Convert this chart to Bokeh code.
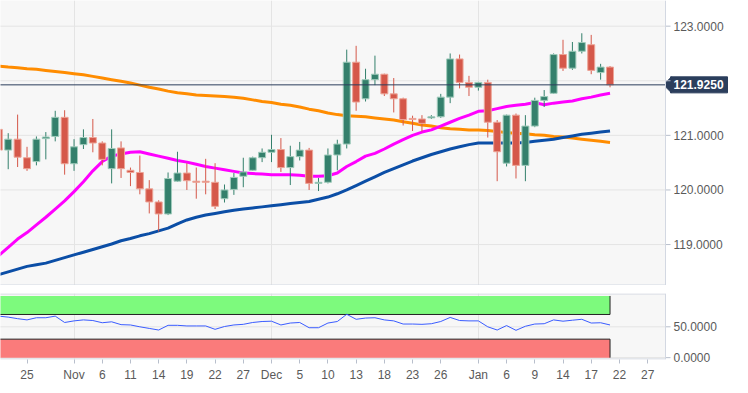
import pandas as pd
from bokeh.plotting import figure
from bokeh.layouts import column
from bokeh.models import Range1d, FixedTicker, Span, PrintfTickFormatter
from bokeh.core.properties import value
from bokeh.embed import file_html
from bokeh.resources import INLINE

# ---- axis: trading days (Mon-Fri) ----
trading_days = pd.bdate_range("2019-10-22", "2020-01-27")
day_index = {d.strftime("%Y-%m-%d"): i for i, d in enumerate(trading_days)}

# ---- daily candles (index 0 = 2019-10-22) ----
opens = [121.11, 120.73, 120.93, 120.59, 120.52, 120.94, 120.98, 121.33, 120.48, 120.83,
         120.96, 120.86, 120.39, 120.77, 120.36, 120.32, 120.02, 119.78, 119.56, 120.16,
         120.31, 120.16, 120.16, 120.14, 119.84, 120.01, 120.25, 120.36, 120.59, 120.69,
         120.74, 120.41, 120.61, 120.73, 120.12, 120.14, 120.64, 120.84, 122.34, 121.67,
         122.02, 122.12, 121.76, 121.67, 121.31, 121.30, 121.32, 121.34, 121.70, 122.40,
         121.97, 121.88, 121.97, 121.24, 120.49, 121.37, 120.45, 121.17, 121.64, 121.77,
         122.48, 122.23, 122.54, 122.66, 122.15, 122.25]
highs = [121.25, 121.04, 121.38, 120.79, 120.98, 121.06, 121.45, 121.46, 120.93, 121.11,
         121.30, 120.89, 121.11, 120.89, 120.41, 120.63, 120.18, 119.81, 120.32, 120.70,
         120.49, 120.41, 120.57, 120.49, 120.10, 120.31, 120.59, 120.61, 120.76, 121.01,
         120.95, 120.81, 120.88, 120.77, 120.22, 120.76, 120.92, 122.57, 122.64, 122.22,
         122.46, 122.13, 122.05, 121.69, 121.36, 121.37, 121.37, 121.76, 122.50, 122.48,
         122.09, 121.98, 122.02, 121.28, 121.38, 121.40, 121.37, 121.69, 121.83, 122.50,
         122.75, 122.71, 122.87, 122.84, 122.31, 122.27]
lows = [120.60, 120.38, 120.42, 120.35, 120.45, 120.56, 120.89, 120.28, 120.35, 120.75,
        120.69, 120.45, 120.12, 120.22, 120.07, 119.92, 119.57, 119.24, 119.54, 120.15,
        120.00, 119.84, 119.92, 119.65, 119.77, 119.91, 120.05, 120.35, 120.51, 120.51,
        120.33, 120.09, 120.54, 120.00, 119.98, 120.12, 120.36, 120.76, 121.45, 121.62,
        121.92, 121.72, 121.42, 121.18, 121.08, 121.07, 121.30, 121.32, 121.59, 121.86,
        121.72, 121.82, 120.96, 120.16, 120.43, 120.21, 120.16, 121.15, 121.52, 121.76,
        122.18, 122.20, 122.50, 122.12, 122.02, 121.88]
closes = [120.73, 120.93, 120.60, 120.39, 120.93, 120.97, 121.33, 120.48, 120.79, 120.96,
          120.86, 120.56, 120.76, 120.39, 120.32, 120.02, 119.78, 119.56, 120.21, 120.31,
          120.17, 120.14, 120.14, 119.70, 120.00, 120.23, 120.33, 120.59, 120.69, 120.74,
          120.41, 120.61, 120.73, 120.12, 120.14, 120.64, 120.84, 122.34, 121.61, 122.02,
          122.12, 121.76, 121.67, 121.29, 121.29, 121.22, 121.34, 121.70, 122.40, 121.97,
          121.88, 121.97, 121.24, 120.70, 121.37, 120.45, 121.17, 121.64, 121.71, 122.48,
          122.23, 122.54, 122.70, 122.19, 122.25, 121.925]

# ---- moving averages ----
sma_fast = [118.80, 118.95, 119.10, 119.22, 119.36, 119.50, 119.65, 119.80, 119.97, 120.15,
            120.35, 120.52, 120.62, 120.66, 120.69, 120.70, 120.66, 120.62, 120.58, 120.54,
            120.51, 120.47, 120.43, 120.40, 120.37, 120.34, 120.31, 120.30, 120.29, 120.28,
            120.28, 120.28, 120.27, 120.25, 120.25, 120.26, 120.31, 120.43, 120.52, 120.62,
            120.67, 120.75, 120.84, 120.92, 121.00, 121.06, 121.10, 121.17, 121.24, 121.31,
            121.37, 121.44, 121.45, 121.49, 121.53, 121.55, 121.57, 121.60, 121.56, 121.59,
            121.61, 121.63, 121.67, 121.70, 121.74, 121.77]
sma_mid = [118.45, 118.50, 118.55, 118.60, 118.63, 118.66, 118.71, 118.76, 118.81, 118.86,
           118.91, 118.96, 119.01, 119.07, 119.11, 119.16, 119.20, 119.25, 119.30, 119.38,
           119.45, 119.50, 119.54, 119.57, 119.60, 119.63, 119.65, 119.67, 119.69, 119.71,
           119.73, 119.75, 119.77, 119.79, 119.83, 119.87, 119.93, 120.00, 120.08, 120.16,
           120.24, 120.32, 120.39, 120.46, 120.53, 120.59, 120.65, 120.70, 120.75, 120.79,
           120.83, 120.86, 120.86, 120.86, 120.86, 120.86, 120.87, 120.89, 120.91, 120.93,
           120.96, 120.99, 121.02, 121.04, 121.06, 121.08]
sma_slow = [122.27, 122.25, 122.24, 122.22, 122.21, 122.19, 122.17, 122.15, 122.13, 122.11,
            122.08, 122.05, 122.02, 121.99, 121.96, 121.92, 121.88, 121.85, 121.81, 121.78,
            121.76, 121.74, 121.73, 121.72, 121.71, 121.70, 121.68, 121.65, 121.62, 121.60,
            121.57, 121.55, 121.52, 121.48, 121.45, 121.41, 121.38, 121.36, 121.35, 121.34,
            121.32, 121.30, 121.28, 121.25, 121.22, 121.19, 121.17, 121.14, 121.12, 121.11,
            121.10, 121.10, 121.09, 121.07, 121.05, 121.04, 121.03, 121.01, 121.00, 120.98,
            120.97, 120.95, 120.93, 120.91, 120.89, 120.87]

# ---- RSI ----
rsi = [67.3, 65.7, 63.2, 61.2, 64.7, 64.7, 67.3, 57.0, 59.6, 61.2,
       60.2, 56.6, 58.1, 53.5, 53.0, 50.0, 47.4, 44.8, 52.4, 52.4,
       51.4, 51.4, 51.4, 45.9, 50.5, 53.0, 54.0, 57.0, 58.6, 59.1,
       53.0, 56.1, 57.0, 48.5, 48.5, 56.1, 58.6, 70.3, 62.2, 64.2,
       64.7, 61.2, 59.6, 54.5, 54.5, 54.0, 55.0, 58.6, 65.2, 60.2,
       59.6, 59.6, 50.0, 44.8, 52.0, 44.3, 50.9, 54.5, 55.0, 61.2,
       59.1, 60.7, 62.2, 56.1, 56.6, 53.0]
rsi_upper = [70, 100]
rsi_lower = [0, 30]

last_price = 121.925
price_ticks = [119, 120, 121, 122, 123]
rsi_ticks = [0, 50]

tick_dates = ["2019-10-25", "2019-11-01", "2019-11-06", "2019-11-11", "2019-11-14", "2019-11-19",
              "2019-11-22", "2019-11-27", "2019-12-02", "2019-12-05", "2019-12-10", "2019-12-13",
              "2019-12-18", "2019-12-23", "2019-12-26", "2020-01-01", "2020-01-06", "2020-01-09",
              "2020-01-14", "2020-01-17", "2020-01-22", "2020-01-27"]
tick_labels = ["25", "Nov", "6", "11", "14", "19", "22", "27", "Dec", "5", "10", "13",
               "18", "23", "26", "Jan", "6", "9", "14", "17", "22", "27"]
month_dates = ["2019-11-01", "2019-12-02", "2020-01-01"]

# ---- derived ----
xs = list(range(len(opens)))
up = [c >= o for o, c in zip(opens, closes)]
UP, DOWN = "#34806c", "#d5584a"
UP_EDGE, DOWN_EDGE = "#9fcbbb", "#eda497"
body_fill = [UP if u else DOWN for u in up]
body_edge = [UP_EDGE if u else DOWN_EDGE for u in up]
tops = [max(o, c) for o, c in zip(opens, closes)]
bots = [min(o, c) for o, c in zip(opens, closes)]
tick_idx = [day_index[d] for d in tick_dates]
month_idx = [day_index[d] for d in month_dates]
last_idx = xs[-1]

FONT = "Liberation Sans"
BG = "#f7f7f7"
FRAME = "#d3d8e2"
GRID = "#e4e4e4"
NAVY = "#2b3e5c"
LABEL_C = "#5a5a5a"

# frame = chart area (PLOT_W px) + price-scale area (AXIS_W px)
PLOT_W, AXIS_W = 665, 67
FW = PLOT_W + AXIS_W
FH1, FH2 = 285, 66
X0, X_PLOT_END = 0.18, 70.9
PX = (X_PLOT_END - X0) / PLOT_W          # data units per pixel (x)
X1 = X0 + FW * PX
Y0, Y1 = 118.25, 123.47
PY = (Y1 - Y0) / FH1                      # data units per pixel (y)
R0, R1 = -3, 104
PR = (R1 - R0) / FH2

x_range = Range1d(X0, X1)


def style_price_axis(ax):
    ax.axis_line_color = None
    ax.major_tick_out = 0
    ax.major_tick_in = 0
    ax.minor_tick_out = 0
    ax.minor_tick_in = 0
    ax.minor_tick_line_color = None
    ax.major_tick_line_color = None
    ax.major_label_text_font = FONT
    ax.major_label_text_font_size = "12px"
    ax.major_label_text_color = LABEL_C
    # labels sit in the price-scale area, just right of the chart area
    ax.major_label_standoff = -(AXIS_W - 8)
    ax.formatter = PrintfTickFormatter(format="%.4f")


# ================= main chart =================
p1 = figure(frame_width=FW, frame_height=FH1, x_range=x_range, y_range=Range1d(Y0, Y1),
            y_axis_location="right", output_backend="svg", toolbar_location=None,
            background_fill_color="white", border_fill_color="white",
            min_border_left=0, min_border_top=0, min_border_bottom=0, min_border_right=0)
p1.outline_line_color = None
p1.xaxis.visible = False
p1.ygrid.visible = False
p1.xgrid.ticker = FixedTicker(ticks=month_idx)
p1.xgrid.grid_line_color = GRID
# the 122 label is hidden behind the last-price marker, as in the original
p1.yaxis.ticker = FixedTicker(ticks=[t for t in price_ticks if abs(t - last_price) > 0.3])
style_price_axis(p1.yaxis[0])

# last-price marker in the price-scale area (drawn first)
tip = X_PLOT_END - 2 * PX
bl = X_PLOT_END + 5 * PX
br = X_PLOT_END + 62 * PX
hh = 8 * PY
p1.quad(left=[bl], right=[br], bottom=[last_price - hh], top=[last_price + hh],
        fill_color=NAVY, line_color=NAVY, line_width=1, level="underlay")
p1.patch(x=[tip, bl + PX, bl + PX], y=[last_price, last_price + hh, last_price - hh],
         fill_color=NAVY, line_color=NAVY, line_width=1, level="underlay")
# price-scale tick marks
p1.segment(x0=[X_PLOT_END] * len(price_ticks), y0=price_ticks, x1=[X_PLOT_END + 5 * PX] * len(price_ticks),
           y1=price_ticks, line_color="#b8bfcc", line_width=1, level="underlay")

# chart-area background, grid, border
p1.quad(left=X0 - 1, right=X_PLOT_END, bottom=Y0 - 1, top=Y1 + 1, fill_color=BG, line_color=None, level="underlay")
p1.segment(x0=[X0 - 1] * len(price_ticks), y0=price_ticks, x1=[X_PLOT_END] * len(price_ticks), y1=price_ticks,
           line_color=GRID, line_width=1, level="underlay")
p1.add_layout(Span(location=X_PLOT_END, dimension="height", line_color=FRAME, line_width=1))
p1.segment(x0=[X0 - 1], y0=[Y0 + 0.5 * PY], x1=[X_PLOT_END], y1=[Y0 + 0.5 * PY], line_color=FRAME, line_width=1)

p1.line(xs, sma_slow, line_color="#ff8c00", line_width=3)
p1.line(xs, sma_mid, line_color="#0b4ea6", line_width=3)
p1.line(xs, sma_fast, line_color="#ff00ff", line_width=3)

p1.segment(x0=xs, y0=lows, x1=xs, y1=highs, line_color=body_fill, line_width=1)
p1.vbar(x=xs, width=0.74, top=tops, bottom=bots, fill_color=body_fill, line_color=body_edge, line_width=1)

# last price line and label text
p1.segment(x0=[X0 - 1], y0=[last_price], x1=[X_PLOT_END], y1=[last_price], line_color=NAVY, line_width=1)
p1.text(x=[bl + 3 * PX], y=[last_price], text=["%.4f" % last_price], text_color="white",
        text_font=value(FONT), text_font_style="bold", text_font_size="12px",
        text_baseline="middle", text_align="left")

# ================= RSI panel =================
p2 = figure(frame_width=FW, frame_height=FH2, x_range=x_range, y_range=Range1d(R0, R1),
            y_axis_location="right", output_backend="svg", toolbar_location=None,
            background_fill_color="white", border_fill_color="white",
            min_border_left=0, min_border_top=8, min_border_bottom=0, min_border_right=0)
p2.outline_line_color = None
p2.ygrid.visible = False
p2.xgrid.ticker = FixedTicker(ticks=month_idx)
p2.xgrid.grid_line_color = GRID
p2.yaxis.ticker = FixedTicker(ticks=rsi_ticks)
style_price_axis(p2.yaxis[0])

p2.xaxis.ticker = FixedTicker(ticks=tick_idx)
p2.xaxis.major_label_overrides = {i: t for i, t in zip(tick_idx, tick_labels)}
xa = p2.xaxis[0]
xa.axis_line_color = None
xa.major_tick_in = 0
xa.major_tick_out = 4
xa.minor_tick_out = 0
xa.minor_tick_line_color = None
xa.major_tick_line_color = "#b8bfcc"
xa.major_label_text_font = FONT
xa.major_label_text_font_size = "12px"
xa.major_label_text_color = LABEL_C
xa.major_label_standoff = 4

p2.segment(x0=[X_PLOT_END] * len(rsi_ticks), y0=rsi_ticks, x1=[X_PLOT_END + 5 * PX] * len(rsi_ticks),
           y1=rsi_ticks, line_color="#b8bfcc", line_width=1, level="underlay")
p2.quad(left=X0 - 1, right=X_PLOT_END, bottom=R0 - 10, top=R1 + 10, fill_color=BG, line_color=None, level="underlay")
p2.segment(x0=[X0 - 1] * len(rsi_ticks), y0=rsi_ticks, x1=[X_PLOT_END] * len(rsi_ticks), y1=rsi_ticks,
           line_color=GRID, line_width=1, level="underlay")
p2.add_layout(Span(location=X_PLOT_END, dimension="height", line_color=FRAME, line_width=1))
p2.segment(x0=[X0 - 1], y0=[R1 - 0.5 * PR], x1=[X_PLOT_END], y1=[R1 - 0.5 * PR], line_color=FRAME, line_width=1)
p2.segment(x0=[X0 - 1], y0=[R0 + 0.5 * PR], x1=[X_PLOT_END], y1=[R0 + 0.5 * PR], line_color=FRAME, line_width=1)

p2.quad(left=X0 - 1, right=last_idx, bottom=rsi_upper[0], top=rsi_upper[1], fill_color="#7dfa7d", line_color=None)
p2.quad(left=X0 - 1, right=last_idx, bottom=rsi_lower[0], top=rsi_lower[1], fill_color="#fa7b7b", line_color=None)
p2.segment(x0=[X0 - 1, last_idx, X0 - 1, last_idx],
           y0=[rsi_upper[0], rsi_upper[0], rsi_lower[1], rsi_lower[0]],
           x1=[last_idx, last_idx, last_idx, last_idx],
           y1=[rsi_upper[0], rsi_upper[1], rsi_lower[1], rsi_lower[1]],
           line_color="#222222", line_width=1)
p2.line(xs, rsi, line_color="#3a5cff", line_width=1)

layout = column(p1, p2, spacing=0)
open("out.html", "w").write(file_html(layout, INLINE))
